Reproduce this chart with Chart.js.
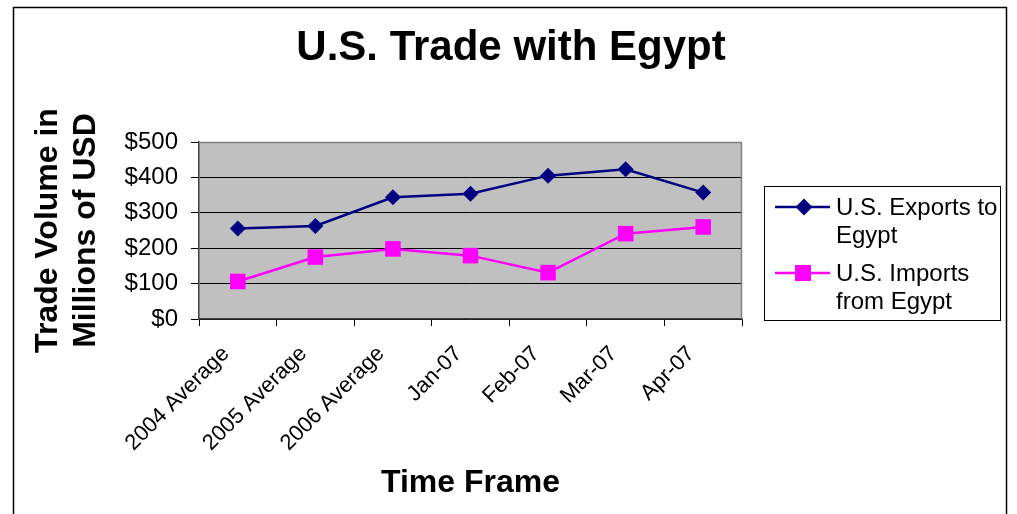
<!DOCTYPE html>
<html><head><meta charset="utf-8">
<script src="https://cdn.jsdelivr.net/npm/chart.js@4/dist/chart.umd.min.js"></script>
<style>html,body{margin:0;padding:0;background:#fff;overflow:hidden}#wrap{position:relative;width:1017px;height:514px}</style>
</head><body><div id="wrap"><canvas id="c" width="1017" height="514"></canvas></div>
<script>
const categories = ["2004 Average","2005 Average","2006 Average","Jan-07","Feb-07","Mar-07","Apr-07"];
const exportsToEgypt = [256, 263, 344, 354, 405, 423, 357];
const importsFromEgypt = [106, 175, 198, 179, 131, 241, 260];
const yMin = 0, yMax = 500, yStep = 100;
const chartTitle = "U.S. Trade with Egypt";
const yTitle = ["Trade Volume in", "Millions of USD"];
const xTitle = "Time Frame";
const seriesNames = ["U.S. Exports to Egypt", "U.S. Imports from Egypt"];
const legendLines = [["U.S. Exports to", "Egypt"], ["U.S. Imports", "from Egypt"]];

const FONT = "Arial, 'Liberation Sans', sans-serif";
const NAVY = "#000080", PINK = "#FF00FF";

const framePlugin = {
  id: 'frame',
  beforeDraw(chart) {
    const {ctx, chartArea: a} = chart;
    ctx.save();
    ctx.fillStyle = '#ffffff';
    ctx.fillRect(0, 0, chart.width, chart.height);
    ctx.fillStyle = '#C0C0C0';
    ctx.fillRect(a.left, a.top, a.right - a.left, a.bottom - a.top);
    ctx.restore();
  },
  beforeDatasetsDraw(chart) {
    const {ctx, chartArea: a} = chart;
    ctx.save();
    ctx.strokeStyle = '#808080';
    ctx.lineWidth = 1.5;
    ctx.beginPath();
    ctx.moveTo(a.left, a.top + 0.5);
    ctx.lineTo(a.right - 0.5, a.top + 0.5);
    ctx.lineTo(a.right - 0.5, a.bottom);
    ctx.stroke();
    ctx.restore();
  },
  afterDraw(chart) {
    const ctx = chart.ctx;
    ctx.save();
    // outer frame
    ctx.strokeStyle = '#000';
    ctx.lineWidth = 1.5;
    ctx.beginPath();
    ctx.moveTo(13.5, 520);
    ctx.lineTo(13.5, 7.5);
    ctx.lineTo(1006.5, 7.5);
    ctx.lineTo(1006.5, 520);
    ctx.stroke();
    // title
    ctx.fillStyle = '#000';
    ctx.font = "bold 42px " + FONT;
    ctx.textAlign = 'center';
    ctx.textBaseline = 'alphabetic';
    ctx.fillText(chartTitle, 511, 60);
    // legend
    const L = {x: 764.5, y: 186.5, w: 236, h: 134};
    ctx.fillStyle = '#fff';
    ctx.fillRect(L.x, L.y, L.w, L.h);
    ctx.strokeStyle = '#000';
    ctx.lineWidth = 1;
    ctx.strokeRect(L.x, L.y, L.w, L.h);
    const rows = [207, 273];
    chart.data.datasets.forEach((ds, i) => {
      const y = rows[i];
      ctx.strokeStyle = ds.borderColor;
      ctx.lineWidth = 2.5;
      ctx.beginPath();
      ctx.moveTo(775, y);
      ctx.lineTo(830, y);
      ctx.stroke();
      ctx.fillStyle = ds.pointBackgroundColor;
      if (ds.pointStyle === 'rectRot') {
        const r = 8.5;
        ctx.beginPath();
        ctx.moveTo(804, y - r);
        ctx.lineTo(804 + r, y);
        ctx.lineTo(804, y + r);
        ctx.lineTo(804 - r, y);
        ctx.closePath();
        ctx.fill();
      } else {
        ctx.fillRect(803 - 8, y - 8, 16, 16);
      }
      ctx.fillStyle = '#000';
      ctx.font = "24px " + FONT;
      ctx.textAlign = 'left';
      ctx.textBaseline = 'middle';
      legendLines[i].forEach((t, j) => ctx.fillText(t, 836, y + 1 + j * 28.5));
    });
    ctx.restore();
  }
};

new Chart(document.getElementById('c'), {
  type: 'line',
  data: {
    labels: categories,
    datasets: [
      {
        label: seriesNames[0],
        data: exportsToEgypt,
        borderColor: NAVY,
        backgroundColor: NAVY,
        pointBackgroundColor: NAVY,
        pointBorderColor: NAVY,
        pointStyle: 'rectRot',
        pointRadius: 8,
        pointBorderWidth: 0,
        borderWidth: 2.5,
        tension: 0
      },
      {
        label: seriesNames[1],
        data: importsFromEgypt,
        borderColor: PINK,
        backgroundColor: PINK,
        pointBackgroundColor: PINK,
        pointBorderColor: PINK,
        pointStyle: 'rect',
        pointRadius: 11,
        pointBorderWidth: 0,
        borderWidth: 2.5,
        tension: 0
      }
    ]
  },
  options: {
    responsive: false,
    animation: false,
    devicePixelRatio: 1,
    layout: { padding: { top: 142, right: 275, bottom: 0, left: 0 } },
    plugins: {
      legend: { display: false },
      title: { display: false },
      tooltip: { enabled: false }
    },
    scales: {
      x: {
        offset: true,
        afterFit(s) { s.height = 195; },
        grid: { display: true, offset: true, drawOnChartArea: false, drawTicks: true, tickLength: 7, tickColor: '#000', lineWidth: 1 },
        border: { display: true, color: '#404040', width: 1.5 },
        ticks: { color: '#000', font: { family: FONT, size: 22 }, minRotation: 45, maxRotation: 45, padding: 15, labelOffset: -12, autoSkip: false },
        title: { display: true, text: xTitle, color: '#000', font: { family: FONT, size: 32, weight: 'bold' }, padding: { top: 0, bottom: 12 } }
      },
      y: {
        min: yMin, max: yMax,
        afterFit(s) { s.width = 199; },
        grid: { color: '#000', lineWidth: 1, drawTicks: true, tickLength: 8, tickColor: '#000' },
        border: { display: true, color: '#404040', width: 1.5 },
        ticks: { stepSize: yStep, color: '#000', font: { family: FONT, size: 24 }, padding: 13, callback: v => '$' + v },
        title: { display: true, text: yTitle, color: '#000', font: { family: FONT, size: 32, weight: 'bold' }, padding: { top: 29, bottom: 0 } }
      }
    }
  },
  plugins: [framePlugin]
});
</script></body></html>
